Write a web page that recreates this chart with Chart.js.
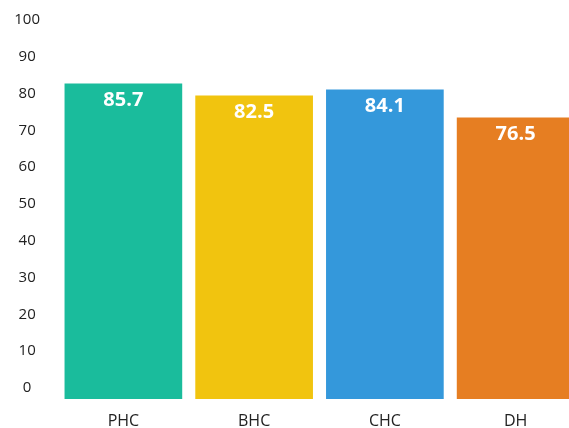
<!DOCTYPE html>
<html>
<head>
<meta charset="utf-8">
<script src="https://cdn.jsdelivr.net/npm/chart.js@4"></script>
<style>
  html, body { margin: 0; padding: 0; background: #fff; overflow: hidden; }
  #caja { width: 590px; height: 428px; }
</style>
</head>
<body>
<div id="caja"><canvas id="grafica"></canvas></div>
<script>
// Datos del gráfico
const categorias = ["PHC", "BHC", "CHC", "DH"];
const valores = [85.7, 82.5, 84.1, 76.5];
const colores = ["#1ABC9C", "#F1C40F", "#3498DB", "#E67E22"];
const marcasY = [0, 10, 20, 30, 40, 50, 60, 70, 80, 90, 100];

// Plugin para escribir el valor dentro de cada barra
const etiquetasBarras = {
  id: "etiquetasBarras",
  afterDatasetsDraw(chart) {
    const { ctx } = chart;
    const meta = chart.getDatasetMeta(0);
    ctx.save();
    ctx.fillStyle = "#ffffff";
    ctx.font = "bold 20px 'Open Sans'";
    ctx.textAlign = "center";
    ctx.textBaseline = "middle";
    meta.data.forEach((barra, i) => {
      ctx.fillText(valores[i].toFixed(1), barra.x, barra.y + 17);
    });
    ctx.restore();
  },
};

new Chart(document.getElementById("grafica"), {
  type: "bar",
  data: {
    labels: categorias,
    datasets: [
      {
        data: valores,
        backgroundColor: colores,
        barPercentage: 0.9,
        categoryPercentage: 1,
      },
    ],
  },
  options: {
    responsive: true,
    maintainAspectRatio: false,
    animation: false,
    layout: { padding: { top: 31, right: 9, left: 0, bottom: 0 } },
    plugins: {
      legend: { display: false },
      tooltip: { enabled: false },
    },
    scales: {
      x: {
        afterFit(escala) {
          escala.height = 29;
        },
        grid: { display: false, drawTicks: false },
        border: { display: false },
        ticks: {
          color: "#222",
          font: { family: "'Open Sans'", size: 16 },
          padding: 13,
        },
      },
      y: {
        min: 0,
        max: 100,
        afterFit(escala) {
          escala.width = 58;
        },
        afterBuildTicks(escala) {
          escala.ticks = marcasY.map((v) => ({ value: v }));
        },
        grid: { display: false, drawTicks: false },
        border: { display: false },
        ticks: {
          color: "#222",
          font: { family: "'Open Sans'", size: 15 },
          crossAlign: "center",
          padding: 18,
          labelOffset: -11,
        },
      },
    },
  },
  plugins: [etiquetasBarras],
});
</script>
</body>
</html>
